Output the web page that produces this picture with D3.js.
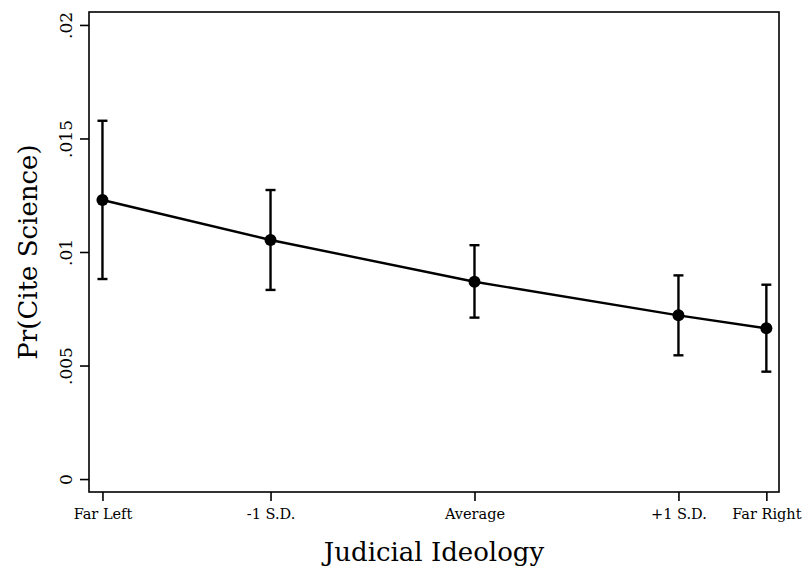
<!DOCTYPE html>
<html>
<head>
<meta charset="utf-8">
<script src="https://cdn.jsdelivr.net/npm/d3@7"></script>
<style>
  body { margin: 0; background: #fff; }
  text { font-family: "DejaVu Serif", "Liberation Serif", serif; fill: #000; }
</style>
</head>
<body>
<div id="chart"></div>
<script>
// DATA
////////////////////////////
// x positions in SD units from the mean
var labels = ["Far Left", "-1 S.D.", "Average", "+1 S.D.", "Far Right"];
var xpos   = [-1.824, -1, 0, 1, 1.431];
var prob   = [0.01229, 0.01053, 0.00869, 0.00721, 0.00664];
var upper  = [0.01578, 0.01273, 0.01030, 0.00897, 0.00856];
var lower  = [0.00881, 0.00833, 0.00711, 0.00545, 0.00473];
var yTicks = [0, 0.005, 0.01, 0.015, 0.02];
var yTickLabels = ["0", ".005", ".01", ".015", ".02"];

// SETUP
////////////////////////////
var width = 804,
    height = 569;
var margin = {top: 12, right: 25, bottom: 77, left: 89};

var svg = d3.select("#chart").append("svg")
    .attr("width", width)
    .attr("height", height);

var x = d3.scaleLinear()
    .domain([-1.89, 1.493])
    .range([margin.left, width - margin.right]);

var y = d3.scaleLinear()
    .domain([-0.00057, 0.02057])
    .range([height - margin.bottom, margin.top]);

var pts = labels.map(function(d, i) {
  return {label: d, x: xpos[i], p: prob[i], hi: upper[i], lo: lower[i]};
});

// frame
svg.append("rect")
    .attr("x", margin.left)
    .attr("y", margin.top)
    .attr("width", width - margin.left - margin.right)
    .attr("height", height - margin.top - margin.bottom)
    .attr("fill", "none")
    .attr("stroke", "#000")
    .attr("stroke-width", 1.6);

// y axis
var yAxis = svg.append("g")
    .attr("transform", "translate(" + margin.left + ",0)")
    .call(d3.axisLeft(y).tickValues(yTicks)
      .tickFormat(function(d, i) { return yTickLabels[i]; })
      .tickSize(9).tickSizeOuter(0));
yAxis.select(".domain").remove();
yAxis.selectAll("line").attr("stroke", "#000").attr("stroke-width", 1.6);
yAxis.selectAll("text")
    .attr("font-size", 17)
    .attr("text-anchor", "middle")
    .attr("x", null).attr("dy", null)
    .attr("transform", "translate(-17,0) rotate(-90)");

// x axis
var xAxis = svg.append("g")
    .attr("transform", "translate(0," + (height - margin.bottom) + ")")
    .call(d3.axisBottom(x).tickValues(xpos)
      .tickFormat(function(d, i) { return labels[i]; })
      .tickSize(9).tickSizeOuter(0).tickPadding(8));
xAxis.select(".domain").remove();
xAxis.selectAll("line").attr("stroke", "#000").attr("stroke-width", 1.6);
xAxis.selectAll("text").attr("font-size", 14.5);

// axis titles
svg.append("text")
    .attr("x", (margin.left + width - margin.right) / 2)
    .attr("y", 561)
    .attr("text-anchor", "middle")
    .attr("font-size", 26)
    .text("Judicial Ideology");

svg.append("text")
    .attr("transform", "translate(37," + ((margin.top + height - margin.bottom) / 2) + ") rotate(-90)")
    .attr("text-anchor", "middle")
    .attr("font-size", 26)
    .text("Pr(Cite Science)");

// error bars
var bars = svg.append("g").attr("stroke", "#000").attr("stroke-width", 2.4);
bars.selectAll(".ci").data(pts).enter().append("line")
    .attr("x1", function(d) { return x(d.x); })
    .attr("x2", function(d) { return x(d.x); })
    .attr("y1", function(d) { return y(d.lo); })
    .attr("y2", function(d) { return y(d.hi); });
bars.selectAll(".capHi").data(pts).enter().append("line")
    .attr("x1", function(d) { return x(d.x) - 5; })
    .attr("x2", function(d) { return x(d.x) + 5; })
    .attr("y1", function(d) { return y(d.hi); })
    .attr("y2", function(d) { return y(d.hi); });
bars.selectAll(".capLo").data(pts).enter().append("line")
    .attr("x1", function(d) { return x(d.x) - 5; })
    .attr("x2", function(d) { return x(d.x) + 5; })
    .attr("y1", function(d) { return y(d.lo); })
    .attr("y2", function(d) { return y(d.lo); });

// line
var line = d3.line()
    .x(function(d) { return x(d.x); })
    .y(function(d) { return y(d.p); });

svg.append("path")
    .datum(pts)
    .attr("d", line)
    .attr("fill", "none")
    .attr("stroke", "#000")
    .attr("stroke-width", 2.4);

// markers
svg.selectAll(".pt").data(pts).enter().append("circle")
    .attr("cx", function(d) { return x(d.x); })
    .attr("cy", function(d) { return y(d.p); })
    .attr("r", 6)
    .attr("fill", "#000");
</script>
</body>
</html>
